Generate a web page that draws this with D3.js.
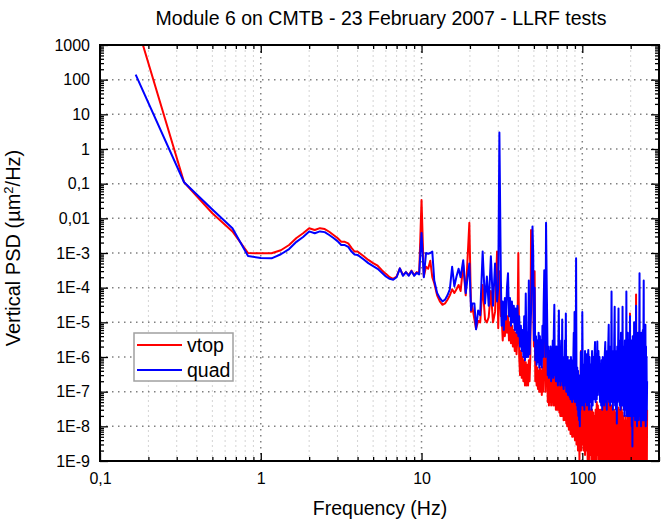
<!DOCTYPE html>
<html><head><meta charset="utf-8">
<script src="https://cdn.jsdelivr.net/npm/d3@7"></script>
<style>
body{margin:0;background:#fff}
svg{display:block}
text{font-family:Arial,"Liberation Sans",Helvetica,sans-serif;fill:#000}
</style>
</head><body>
<svg id="chart" width="663" height="521"></svg>
<script>
// ---------------- data ----------------
const title = "Module 6 on CMTB - 23 February 2007 - LLRF tests";
const xLabel = "Frequency (Hz)";
const seriesNames = ["vtop", "quad"];
const seriesColors = ["#ff0000", "#0000ff"];

const xTicks = [0.1, 1, 10, 100];
const xTickLabels = ["0,1", "1", "10", "100"];
const yTicks = [1000, 100, 10, 1, 0.1, 0.01, 1e-3, 1e-4, 1e-5, 1e-6, 1e-7, 1e-8, 1e-9];
const yTickLabels = ["1000", "100", "10", "1", "0,1", "0,01", "1E-3", "1E-4", "1E-5", "1E-6", "1E-7", "1E-8", "1E-9"];

const freq = [
  0.1667, 0.3333, 0.5, 0.6667, 0.8333, 1.0, 1.1667, 1.3333, 1.5, 1.6667,
  1.8333, 2.0, 2.1667, 2.3333, 2.5, 2.6667, 2.8333, 3.0, 3.1667, 3.3333,
  3.5, 3.6667, 3.8333, 4.0, 4.3333, 4.6667, 5.0, 5.3333, 5.6667, 6.0,
  6.3333, 6.6667, 7.0, 7.3333, 7.6667, 8.0, 8.3333, 8.6667, 9.0, 9.3333,
  9.6667,
  10.0, 10.3333, 10.6667, 11.0, 11.3333, 11.6667, 12.0, 12.5, 13.0, 13.5,
  14.0, 14.5, 15.0, 15.5, 16.0, 16.5, 17.0, 17.5, 18.1667, 18.8333,
  19.8333, 20.3333, 20.6667, 21.3333, 21.8333, 22.5, 23.1667, 24.0, 24.8333, 25.5,
  26.1667, 27.0, 27.8333, 28.6667, 29.5, 30.0, 30.5, 31.1667,
  31.5, 32, 32.5, 33, 33.5, 34, 34.5, 35, 35.5, 36,
  36.5, 37, 37.5, 38, 38.5, 39, 39.5, 40, 40.5, 41,
  41.5, 42, 42.5, 43, 43.5, 44, 44.5, 45, 45.5, 46,
  46.5, 47, 47.5, 48, 48.5, 49, 49.5, 50, 50.5, 51,
  51.5, 52, 52.5, 53, 53.5, 54, 54.5, 55, 55.5, 56,
  56.5, 57, 57.5, 58, 58.5, 59, 59.5, 60,
  60.5, 61, 61.5, 62, 62.5, 63, 63.5, 64, 64.5, 65,
  65.5, 66, 66.5, 67, 67.5, 68, 68.5, 69, 69.5, 70,
  70.5, 71, 71.5, 72, 72.5, 73, 73.5, 74, 74.5, 75,
  75.5, 76, 76.5, 77, 77.5, 78, 78.5, 79, 79.5, 80,
  80.5, 81, 81.5, 82, 82.5, 83, 83.5, 84, 84.5, 85,
  85.5, 86, 86.5, 87, 87.5, 88, 88.5, 89, 89.5, 90,
  90.5, 91, 91.5, 92, 92.5, 93, 93.5, 94, 94.5, 95,
  95.5, 96, 96.5, 97, 97.5, 98, 98.5, 99, 99.5, 100,
  101, 102, 103, 104, 105, 106, 107, 108, 109, 110,
  111, 112, 113, 114, 115, 116, 117, 118, 119, 120,
  121, 122, 123, 124, 125, 126, 127, 128, 129, 130,
  131, 132, 133, 134, 135, 136, 137, 138, 139, 140,
  141, 142, 143, 144, 145, 146, 147, 148, 149, 150,
  151, 152, 153, 154, 155, 156, 157, 158, 159, 160,
  161, 162, 163, 164, 165, 166, 167, 168, 169, 170,
  171, 172, 173, 174, 175, 176, 177, 178, 179, 180,
  181, 182, 183, 184, 185, 186, 187, 188, 189, 190,
  191, 192, 193, 194, 195, 196, 197, 198, 199, 200,
  201, 202, 203, 204, 205, 206, 207, 208, 209, 210,
  211, 212, 213, 214, 215, 216, 217, 218, 219, 220,
  221, 222, 223, 224, 225, 226, 227, 228, 229, 230,
  231, 232, 233, 234, 235, 236, 237, 238, 239, 240,
  241, 242, 243, 244, 245, 246, 247, 248, 249, 250,
  251, 252, 253
];

const vtop = [
  5000, 0.11, 0.014, 4.2e-3, 1.0e-3, 9.8e-4, 9.8e-4, 1.2e-3, 1.7e-3, 2.7e-3,
  3.7e-3, 5.2e-3, 4.6e-3, 5.2e-3, 4.9e-3, 4.1e-3, 3.3e-3, 2.7e-3, 2.1e-3, 2.1e-3,
  1.9e-3, 1.4e-3, 1.1e-3, 1.1e-3, 8.3e-4, 6.3e-4, 5.1e-4, 4.3e-4, 3.2e-4, 2.5e-4,
  2.0e-4, 1.8e-4, 2.1e-4, 3.6e-4, 2.3e-4, 2.8e-4, 2.3e-4, 3.1e-4, 2.3e-4, 2.8e-4,
  2.5e-4,
  3.4e-2, 2.1e-4, 4e-4, 3.5e-4, 6e-4, 2e-4, 1.35e-4, 6e-5, 4e-5, 3.2e-5,
  3.5e-5, 4.5e-5, 6e-5, 9e-5, 7e-5, 9e-5, 1.2e-4, 8e-5, 4.5e-4, 6e-5,
  7.4e-3, 2e-5, 3e-5, 1.2e-5, 6.5e-6, 1.1e-5, 1e-5, 1.2e-4, 1.2e-5, 1e-5,
  1.4e-5, 8e-5, 1e-5, 2e-5, 1.1e-3, 6.8e-6, 3e-4, 1.5e-5,
  1.5e-5, 3e-6, 1.2e-5, 4e-6, 2.5e-5, 5e-6, 1.5e-5, 3e-6, 1e-5, 2.5e-6,
  8e-6, 2e-6, 6e-6, 1.5e-6, 5e-6, 1.2e-6, 4e-6, 1e-3, 1e-6, 3e-7,
  1.5e-6, 2.5e-7, 1e-6, 2e-7, 8e-7, 1.5e-7, 7e-7, 1.5e-7, 6e-7, 1.5e-7,
  8e-7, 2e-7, 1e-6, 4.6e-3, 1e-4, 4e-4, 5e-5, 2e-6, 3e-4, 2e-7,
  6e-7, 1.5e-7, 5e-7, 1.2e-7, 4e-7, 1e-7, 5e-7, 1e-7, 4e-7, 8e-8,
  5e-7, 1e-7, 6e-7, 1.5e-5, 2e-6, 1e-7, 4e-5, 1.2e-5,
  4e-7, 5e-8, 3e-7, 4e-8, 2.5e-7, 5e-8, 3e-7, 4e-8, 2e-7, 5e-8,
  2.5e-7, 4e-8, 2.5e-7, 3e-7, 4e-8, 2e-7, 3e-8, 2e-7, 3e-8, 1.8e-7,
  3e-8, 2e-7, 2.5e-7, 2.5e-8, 1.5e-7, 2e-8, 1.5e-7, 1.8e-7, 2e-8, 1.8e-7,
  2e-8, 1.5e-7, 1.5e-8, 1.5e-7, 2e-8, 1.2e-7, 1.5e-8, 1.5e-7, 1.2e-8, 1.2e-7,
  1e-8, 1.2e-7, 1e-8, 1e-7, 8e-9, 1e-7, 8e-9, 8e-8, 6e-9, 1e-7,
  6e-9, 8e-8, 5e-9, 7e-8, 5e-9, 7e-8, 6e-9, 6e-8, 8e-8, 4e-9,
  7e-8, 4e-9, 1e-7, 3e-9, 5e-8, 3e-9, 5e-8, 2e-9, 4e-8, 2e-9,
  3e-8, 1e-9, 3e-8, 2e-9, 5e-8, 1.5e-6, 2e-9, 4e-8, 3e-9, 6e-8,
  4e-8, 2e-9, 5e-8, 1.5e-9, 8e-8, 2e-9, 4e-8, 1e-9, 1.2e-6, 1e-9,
  4e-8, 1.5e-9, 3e-8, 8e-10, 3e-8, 1e-9, 2.5e-8, 6e-10, 2e-8, 5e-10,
  3e-8, 1e-9, 5e-8, 1.5e-9, 4e-8, 8e-10, 3e-8, 1e-9, 3e-8, 8e-10,
  3e-8, 7e-10, 3e-8, 9e-10, 4e-8, 1e-9, 5e-8, 8e-10, 6e-8, 1e-9,
  4e-8, 8e-10, 5e-8, 1e-9, 7e-8, 1.4e-7, 1e-9, 4e-8, 7e-10, 3e-8,
  8e-10, 4e-8, 6e-10, 3e-8, 5e-10, 3e-8, 6e-10, 3e-8, 2.5e-8, 5e-10,
  2.5e-8, 4e-10, 2e-8, 5e-10, 2.5e-8, 4e-10, 3e-8, 3.5e-8, 5e-10, 2.5e-8,
  4e-10, 3e-8, 5e-10, 4e-8, 5e-10, 3e-8, 4e-10, 2.5e-8, 3e-10, 2e-8,
  3e-10, 1.5e-8, 4e-10, 1.2e-8, 3e-10, 2e-8, 3e-10, 1.2e-8, 3e-10, 1.5e-8,
  4e-10, 2.5e-8, 3e-10, 2e-8, 4e-10, 3e-8, 5e-10, 1.8e-5, 4e-10, 2.5e-8,
  4e-10, 3e-8, 5e-10, 2e-8, 4e-10, 3.5e-8, 5e-10, 3e-8, 6e-10, 5e-8,
  5e-10, 4e-8, 4e-10, 3e-8, 5e-10, 6.3e-5, 4e-10, 2.5e-8, 3e-10, 2e-8,
  3e-10, 1.5e-8, 4e-10, 2.5e-8, 5e-10, 3e-8, 5e-8, 4e-10, 2.5e-8, 3e-10,
  2e-8, 3e-10, 2.5e-8, 4e-10, 1.5e-8, 3e-10, 3e-8, 5e-10, 3.5e-8, 4e-10,
  4e-8, 5e-10, 3e-8, 4e-10, 2.5e-8, 5e-10, 3.5e-8, 6e-10, 8e-8, 5e-10,
  2.5e-8, 5e-10, 3e-8
];

const quad = [
  140, 0.11, 0.018, 5.2e-3, 8.2e-4, 7.2e-4, 7.0e-4, 9.2e-4, 1.3e-3, 2.1e-3,
  2.9e-3, 4.2e-3, 3.7e-3, 4.2e-3, 4.0e-3, 3.3e-3, 2.7e-3, 2.2e-3, 1.7e-3, 1.7e-3,
  1.5e-3, 1.1e-3, 9.0e-4, 8.8e-4, 6.7e-4, 5.1e-4, 4.2e-4, 3.5e-4, 2.7e-4, 2.1e-4,
  1.8e-4, 1.7e-4, 2.0e-4, 3.6e-4, 2.2e-4, 2.8e-4, 2.2e-4, 3.0e-4, 2.2e-4, 2.7e-4,
  2.4e-4,
  3.8e-3, 2e-4, 1e-3, 9.5e-4, 1e-3, 1.1e-3, 1.6e-4, 7e-5, 5e-5, 4e-5,
  4.5e-5, 6e-5, 9e-5, 4e-4, 1.1e-4, 2.1e-4, 3.5e-4, 2e-4, 6.2e-4, 7e-5,
  5e-4, 2.2e-5, 3.5e-5, 3.5e-5, 6.3e-6, 2.2e-5, 1.6e-5, 1.1e-3, 3.5e-5, 2.1e-4,
  3e-5, 8e-4, 3e-5, 5e-4, 4e-5, 1e-4, 3.0, 1.6e-4,
  8e-6, 4e-5, 6e-6, 5e-5, 1.2e-5, 1e-4, 2.6e-4, 1.5e-5, 5e-5, 8e-6,
  4e-5, 1e-5, 3e-5, 6e-6, 2.5e-5, 5e-6, 3e-5, 4e-6, 1.5e-5, 2e-6,
  8e-6, 1.5e-6, 6e-6, 1e-6, 1.5e-5, 8e-7, 6.8e-5, 1e-6, 5e-6, 1e-6,
  1.6e-4, 1.2e-6, 6e-6, 2e-5, 3e-4, 5.8e-3, 1e-3, 3e-6, 1e-4, 8e-7,
  4e-6, 6e-7, 3e-6, 7e-7, 5e-6, 5e-7, 4e-6, 6e-7, 3e-6, 5e-7,
  8e-6, 1e-6, 3e-5, 3.2e-4, 2e-5, 1e-6, 7.4e-3, 2e-4,
  1e-5, 3e-7, 2e-6, 2.5e-7, 1.5e-6, 3e-7, 2e-6, 2e-7, 1.2e-6, 3e-7,
  3e-6, 2.5e-7, 5e-6, 3.2e-5, 3e-7, 1.5e-6, 2e-7, 2e-6, 2e-7, 1e-6,
  1.5e-7, 3e-6, 2.2e-5, 2e-7, 1e-6, 1.5e-7, 8e-7, 3e-6, 2e-7, 1.2e-5,
  1.5e-7, 8e-7, 1.2e-7, 1e-6, 1.5e-7, 3e-6, 2e-7, 1.8e-5, 1e-7, 8e-7,
  1e-7, 1e-6, 8e-8, 6e-7, 1e-7, 8e-7, 7e-8, 5e-7, 6e-8, 1e-6,
  8e-8, 6e-7, 5e-8, 8e-7, 6e-8, 1e-6, 5e-6, 8e-8, 2e-5, 5e-8,
  1e-6, 6e-8, 7e-4, 5e-7, 4e-8, 5e-7, 3e-8, 4e-7, 2e-8, 3e-7,
  1.5e-8, 2e-7, 1e-8, 3e-7, 3e-8, 1.4e-6, 4e-8, 5e-7, 5e-8, 2e-5,
  4e-8, 6e-7, 3e-8, 1.5e-6, 5e-8, 1.2e-6, 4e-8, 8e-7, 1.6e-6, 3e-8,
  1e-6, 5e-8, 6e-7, 3e-8, 1.5e-6, 4e-8, 1e-6, 6e-8, 8e-7, 2.7e-6,
  5e-8, 1.2e-6, 6e-8, 2.8e-6, 8e-8, 1.5e-6, 3e-7, 1e-6, 5e-8, 6e-7,
  4e-8, 8e-7, 3e-8, 1e-6, 5e-8, 8e-7, 4e-8, 1.2e-6, 2.7e-6, 5e-8,
  1e-6, 3e-8, 1.5e-6, 6e-8, 2e-6, 8.5e-6, 5e-8, 1e-6, 4e-8, 2e-6,
  6e-8, 7.8e-5, 5e-8, 1.5e-6, 3e-8, 1e-6, 5e-8, 3e-6, 2.8e-5, 4e-8,
  1.5e-6, 3e-8, 1e-6, 1.2e-8, 2e-6, 5e-8, 1.5e-6, 2.5e-5, 6e-8, 3e-6,
  4e-8, 2e-6, 3e-8, 5e-6, 6e-8, 2e-6, 4e-8, 2.8e-5, 5e-8, 1.5e-6,
  3e-8, 2e-6, 2e-8, 3e-6, 4e-8, 1.5e-6, 3e-8, 7.8e-5, 2e-8, 2e-6,
  3e-8, 5e-6, 2e-8, 1.5e-6, 3e-8, 3e-6, 2e-8, 1.5e-5, 3e-8, 2e-6,
  2e-8, 3e-6, 1e-8, 2e-6, 2.6e-9, 4e-6, 2e-8, 2e-6, 3e-8, 1e-5,
  2e-8, 3e-6, 1.5e-8, 5e-6, 3e-8, 3e-5, 2e-8, 2e-6, 1e-8, 3e-6,
  2e-8, 5e-6, 1.5e-8, 2e-6, 3e-8, 4e-6, 2.6e-4, 2e-8, 3e-6, 1.5e-8,
  2e-6, 1e-8, 5e-6, 2e-8, 1.5e-8, 3e-6, 2e-8, 6e-6, 1.5e-8, 4e-6,
  1.6e-4, 2e-8, 5e-6, 1.5e-8, 3e-6, 2e-8, 8.5e-6, 1e-8, 2e-6, 1.5e-8,
  1e-6, 3e-8, 2e-7
];

// ---------------- layout ----------------
const svg = d3.select("#chart");
const pL = 100, pR = 659, pT = 45, pB = 461;

const x = d3.scaleLog().domain([0.1, 300]).range([pL, pR]);
const y = d3.scaleLog().domain([1e-9, 1000]).range([pB, pT]);

const minorX = [];
[0.1, 1, 10, 100].forEach(d => { for (let k = 2; k <= 9; k++) { const v = d * k; if (v <= 300) minorX.push(v); } });
const minorY = [];
yTicks.slice(1).forEach(d => { for (let k = 2; k <= 9; k++) minorY.push(d * k); });

// grid
const grid = svg.append("g");
grid.selectAll("line.mx").data(minorX.filter(v => v < 300)).enter().append("line")
  .attr("x1", d => x(d)).attr("x2", d => x(d)).attr("y1", pT).attr("y2", pB)
  .attr("stroke", "#d4d4d4").attr("stroke-width", 1).attr("stroke-dasharray", "2,3");
grid.selectAll("line.Mx").data([1, 10, 100]).enter().append("line")
  .attr("x1", d => x(d)).attr("x2", d => x(d)).attr("y1", pT).attr("y2", pB)
  .attr("stroke", "#808080").attr("stroke-width", 1.5).attr("stroke-dasharray", "1.5,4.5");
grid.selectAll("line.My").data(yTicks.slice(1, -1)).enter().append("line")
  .attr("x1", pL).attr("x2", pR).attr("y1", d => y(d)).attr("y2", d => y(d))
  .attr("stroke", "#808080").attr("stroke-width", 1.5).attr("stroke-dasharray", "1.5,4.5");

// data
svg.append("defs").append("clipPath").attr("id", "clip")
  .append("rect").attr("x", pL).attr("y", pT).attr("width", pR - pL).attr("height", pB - pT);

const line = d3.line().x(d => x(d[0])).y(d => y(d[1]));
const series = [vtop, quad];
const plot = svg.append("g").attr("clip-path", "url(#clip)");
series.forEach((vals, i) => {
  plot.append("path")
    .datum(freq.map((f, j) => [f, vals[j]]))
    .attr("d", line)
    .attr("fill", "none")
    .attr("stroke", seriesColors[i])
    .attr("stroke-width", 2)
    .attr("stroke-linejoin", "round");
});

// axes (ticks inward on all four sides)
function styleAxis(g) {
  g.select(".domain").remove();
  g.selectAll(".tick line").attr("stroke", "#000").attr("stroke-width", 1.3);
  g.selectAll("text").style("font-size", "16px").attr("fill", "#000");
}
svg.append("g").attr("transform", `translate(0,${pB})`)
  .call(d3.axisBottom(x).tickValues(xTicks).tickSize(-8).tickPadding(12)
    .tickFormat((d, i) => xTickLabels[i])).call(styleAxis);
svg.append("g").attr("transform", `translate(0,${pB})`)
  .call(d3.axisBottom(x).tickValues(minorX).tickSize(-4).tickFormat("")).call(styleAxis);
svg.append("g").attr("transform", `translate(0,${pT})`)
  .call(d3.axisTop(x).tickValues(xTicks).tickSize(-8).tickFormat("")).call(styleAxis);
svg.append("g").attr("transform", `translate(0,${pT})`)
  .call(d3.axisTop(x).tickValues(minorX).tickSize(-4).tickFormat("")).call(styleAxis);
svg.append("g").attr("transform", `translate(${pL},0)`)
  .call(d3.axisLeft(y).tickValues(yTicks).tickSize(-8).tickPadding(10)
    .tickFormat((d, i) => yTickLabels[i])).call(styleAxis);
svg.append("g").attr("transform", `translate(${pL},0)`)
  .call(d3.axisLeft(y).tickValues(minorY).tickSize(-4).tickFormat("")).call(styleAxis);
svg.append("g").attr("transform", `translate(${pR},0)`)
  .call(d3.axisRight(y).tickValues(yTicks).tickSize(-8).tickFormat("")).call(styleAxis);
svg.append("g").attr("transform", `translate(${pR},0)`)
  .call(d3.axisRight(y).tickValues(minorY).tickSize(-4).tickFormat("")).call(styleAxis);

// frame
svg.append("rect").attr("x", pL).attr("y", pT).attr("width", pR - pL).attr("height", pB - pT)
  .attr("fill", "none").attr("stroke", "#000").attr("stroke-width", 2);

// title & labels
svg.append("text").attr("x", 381).attr("y", 25).attr("text-anchor", "middle")
  .style("font-size", "19.5px").text(title);
svg.append("text").attr("x", 380).attr("y", 515).attr("text-anchor", "middle")
  .style("font-size", "19.5px").text(xLabel);
const yl = svg.append("text").attr("transform", "translate(20,248) rotate(-90)")
  .attr("text-anchor", "middle").style("font-size", "20px");
yl.append("tspan").text("Vertical PSD (µm");
yl.append("tspan").attr("dy", -7).style("font-size", "13px").text("2");
yl.append("tspan").attr("dy", 7).text("/Hz)");

// legend
const lg = svg.append("g");
lg.append("rect").attr("x", 134).attr("y", 333).attr("width", 99).attr("height", 48)
  .attr("fill", "#fff").attr("stroke", "#a0a0a0").attr("stroke-width", 1.5);
seriesNames.forEach((name, i) => {
  const yy = 345 + i * 25;
  lg.append("line").attr("x1", 137).attr("x2", 182).attr("y1", yy).attr("y2", yy)
    .attr("stroke", seriesColors[i]).attr("stroke-width", 2);
  lg.append("text").attr("x", 187).attr("y", yy + 7).style("font-size", "19.5px").text(name);
});
</script>
</body></html>
